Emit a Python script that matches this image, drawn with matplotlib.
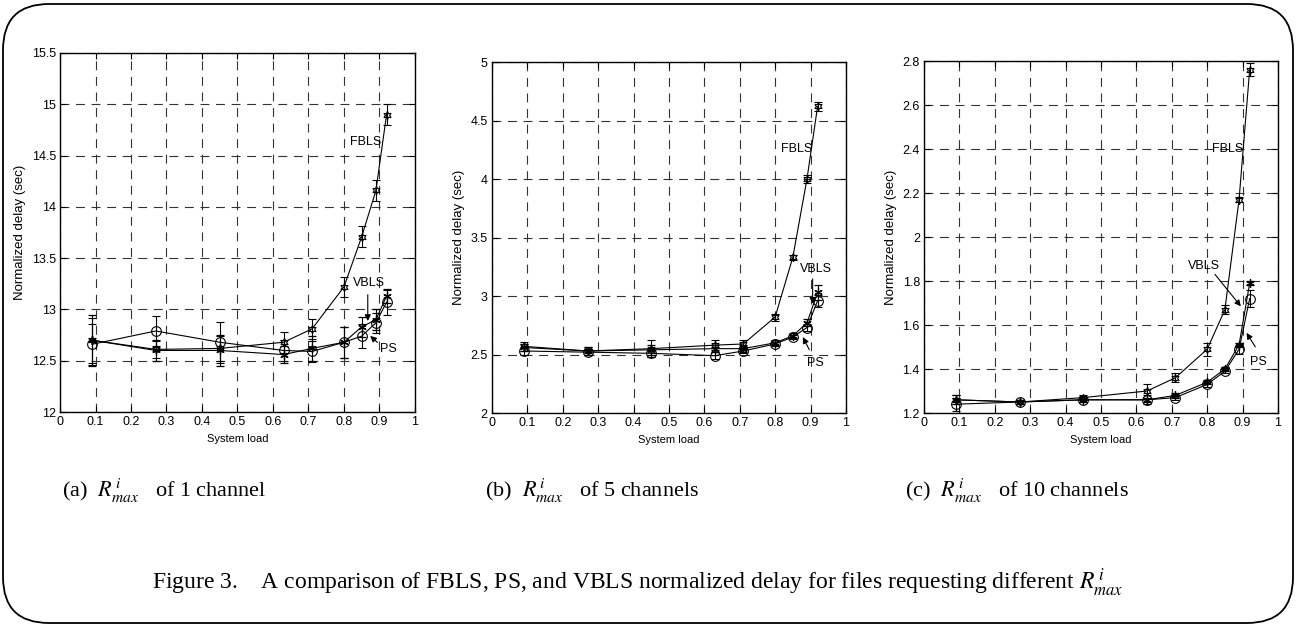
import matplotlib
matplotlib.use('Agg')
import matplotlib.pyplot as plt
from matplotlib import font_manager
from matplotlib.patches import FancyBboxPatch

# data
load = [0.09, 0.27, 0.45, 0.63, 0.71, 0.80, 0.85, 0.89, 0.92]

fbls_1 = [12.70, 12.61, 12.62, 12.68, 12.81, 13.22, 13.71, 14.16, 14.90]
vbls_1 = [12.70, 12.60, 12.60, 12.56, 12.62, 12.68, 12.83, 12.90, 13.13]
ps_1 = [12.66, 12.79, 12.68, 12.60, 12.59, 12.68, 12.74, 12.87, 13.07]
fbls_1_err = [0.22, 0.08, 0.12, 0.10, 0.10, 0.10, 0.10, 0.10, 0.10]
vbls_1_err = [0.25, 0.10, 0.15, 0.08, 0.12, 0.15, 0.10, 0.10, 0.07]
ps_1_err = [0.20, 0.15, 0.20, 0.10, 0.10, 0.15, 0.12, 0.10, 0.12]

fbls_5 = [2.57, 2.53, 2.55, 2.58, 2.59, 2.82, 3.33, 4.00, 4.62]
vbls_5 = [2.56, 2.53, 2.54, 2.55, 2.55, 2.60, 2.66, 2.77, 3.03]
ps_5 = [2.53, 2.52, 2.51, 2.49, 2.53, 2.59, 2.65, 2.73, 2.96]
fbls_5_err = [0.04, 0.03, 0.07, 0.04, 0.03, 0.03, 0.02, 0.03, 0.04]
vbls_5_err = [0.03, 0.03, 0.04, 0.03, 0.03, 0.02, 0.02, 0.03, 0.06]
ps_5_err = [0.03, 0.02, 0.03, 0.03, 0.02, 0.02, 0.02, 0.03, 0.05]

fbls_10 = [1.26, 1.25, 1.27, 1.30, 1.36, 1.49, 1.67, 2.17, 2.76]
vbls_10 = [1.26, 1.25, 1.26, 1.26, 1.28, 1.34, 1.40, 1.51, 1.79]
ps_10 = [1.24, 1.25, 1.26, 1.26, 1.27, 1.33, 1.39, 1.49, 1.72]
fbls_10_err = [0.02, 0.01, 0.01, 0.03, 0.02, 0.03, 0.02, 0.01, 0.03]
vbls_10_err = [0.02, 0.01, 0.01, 0.02, 0.01, 0.01, 0.01, 0.01, 0.01]
ps_10_err = [0.03, 0.01, 0.01, 0.01, 0.01, 0.01, 0.01, 0.02, 0.04]

ylims = [(12, 15.5), (2, 5), (1.2, 2.8)]
ysteps = [0.5, 0.5, 0.2]
xticks = [0, 0.1, 0.2, 0.3, 0.4, 0.5, 0.6, 0.7, 0.8, 0.9, 1]
captions = ['(a)  $R^{\\,i}_{max}$   of 1 channel',
            '(b)  $R^{\\,i}_{max}$   of 5 channels',
            '(c)  $R^{\\,i}_{max}$   of 10 channels']

installed = {f.name for f in font_manager.fontManager.ttflist}
narrow = 'Liberation Sans Narrow' if 'Liberation Sans Narrow' in installed else 'Liberation Sans'
plt.rcParams['font.family'] = [narrow, 'DejaVu Sans']
plt.rcParams['mathtext.fontset'] = 'stix'

fig = plt.figure(figsize=(12.96, 6.27), dpi=100)

# rounded frame around the whole figure
frame = FancyBboxPatch((0.03, 0.04), 12.90, 6.19, boxstyle='round,pad=0,rounding_size=0.46',
                       transform=fig.dpi_scale_trans, fill=False, edgecolor='black', linewidth=1.3)
fig.patches.append(frame)

positions = [[0.0463, 0.3429, 0.2739, 0.5726],
             [0.3796, 0.3413, 0.2731, 0.5598],
             [0.7130, 0.3413, 0.2731, 0.5614]]

series = [(fbls_1, fbls_1_err, vbls_1, vbls_1_err, ps_1, ps_1_err),
          (fbls_5, fbls_5_err, vbls_5, vbls_5_err, ps_5, ps_5_err),
          (fbls_10, fbls_10_err, vbls_10, vbls_10_err, ps_10, ps_10_err)]

# label positions: (text xy, arrow tail, arrow tip)
fbls_txt = [(0.86, 14.63), (0.86, 4.26), (0.858, 2.40)]
vbls_txt = [(0.87, 13.26), (0.915, 3.23), (0.79, 1.87)]
vbls_arrow = [((0.867, 13.17), (0.867, 12.86)), ((0.906, 3.17), (0.906, 2.91)),
              ((0.817, 1.84), (0.90, 1.675))]
ps_txt = [(0.925, 12.61), (0.915, 2.43), (0.945, 1.43)]
ps_arrow = [((0.90, 12.66), (0.868, 12.76)), ((0.90, 2.52), (0.875, 2.67)),
            ((0.94, 1.49), (0.907, 1.575))]

for i in range(3):
    ax = fig.add_axes(positions[i])
    fb, fbe, vb, vbe, ps, pse = series[i]
    ax.errorbar(load, fb, yerr=fbe, color='black', linewidth=0.8, elinewidth=0.8, capsize=3,
                marker=(6, 1, 0), markersize=6, markerfacecolor='none', markeredgewidth=0.8)
    ax.errorbar(load, vb, yerr=vbe, color='black', linewidth=0.8, elinewidth=0.8, capsize=3,
                marker=(6, 2, 0), markersize=6, markeredgewidth=0.9)
    ax.errorbar(load, ps, yerr=pse, color='black', linewidth=0.8, elinewidth=0.8, capsize=3,
                marker='o', markersize=7, markerfacecolor='none', markeredgewidth=0.8)

    lo, hi = ylims[i]
    n = int(round((hi - lo) / ysteps[i]))
    yt = [round(lo + k * ysteps[i], 2) for k in range(n + 1)]
    ax.set_xlim(0, 1)
    ax.set_ylim(lo, hi)
    ax.set_xticks(xticks)
    ax.set_yticks(yt)
    ax.set_xticklabels([('%g' % t) for t in xticks])
    ax.set_yticklabels([('%g' % t) for t in yt])
    ax.tick_params(direction='in', length=4, width=0.8, labelsize=9, pad=3, top=True, right=True)
    ax.grid(True, color='#333333', linestyle=(0, (8, 6)), linewidth=0.8)
    for s in ax.spines.values():
        s.set_linewidth(1.0)
    ax.set_xlabel('System load', fontsize=8, labelpad=4)
    ax.set_ylabel('Normalized delay (sec)', fontsize=9.5, family=['Liberation Sans', 'DejaVu Sans'])

    ax.text(fbls_txt[i][0], fbls_txt[i][1], 'FBLS', fontsize=9, ha='center', va='center')
    ax.text(vbls_txt[i][0], vbls_txt[i][1], 'VBLS', fontsize=9, ha='center', va='center')
    ax.text(ps_txt[i][0], ps_txt[i][1], 'PS', fontsize=9, ha='center', va='center')
    ax.annotate('', xy=vbls_arrow[i][1], xytext=vbls_arrow[i][0],
                arrowprops=dict(arrowstyle='-|>', color='black', lw=0.8, mutation_scale=9))
    ax.annotate('', xy=ps_arrow[i][1], xytext=ps_arrow[i][0],
                arrowprops=dict(arrowstyle='-|>', color='black', lw=0.8, mutation_scale=9))

serif = ['Liberation Serif', 'DejaVu Serif']
caption_x = [0.048, 0.374, 0.698]
for i in range(3):
    fig.text(caption_x[i], 0.218, captions[i], fontsize=16, family=serif, ha='left', va='center')

fig.text(0.492, 0.07, 'Figure 3.    A comparison of FBLS, PS, and VBLS normalized delay for files '
         'requesting different $R^{\\,i}_{max}$', fontsize=17, family=serif,
         ha='center', va='center')

fig.savefig('out.png', dpi=100)
